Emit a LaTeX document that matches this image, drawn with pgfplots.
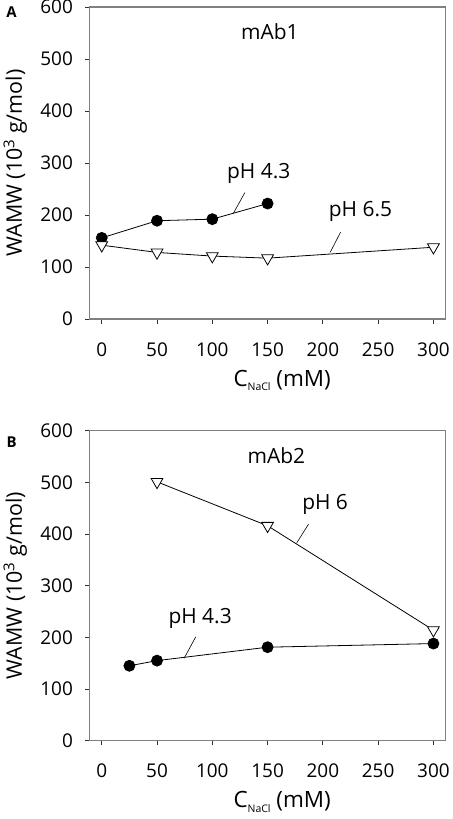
\documentclass[border=0pt]{standalone}
\usepackage{pgfplots}
\pgfplotsset{compat=1.18}
\usepackage{fontspec}
\setmainfont{Open Sans}
\newcommand{\tk}{\fontsize{19}{22}\selectfont}
\newcommand{\lb}{\fontsize{21.5}{25}\selectfont}
\newcommand{\an}{\fontsize{21}{24}\selectfont}
\newcommand{\sub}[1]{\raisebox{-4.5bp}{\fontsize{10.5}{12}\selectfont #1}}
\begin{document}
\pgfplotsset{
  panel/.style={
    scale only axis, width=356bp,
    xmin=-11, xmax=311, ymin=0, ymax=600,
    xtick={0,50,...,300}, ytick={0,100,...,600},
    axis line style={draw=black!50, line width=1.4bp},
    tick style={draw=black!80, line width=0.8bp},
    tick align=outside, major tick length=4.5bp,
    xtick pos=bottom, ytick pos=left,
    /pgf/number format/assume math mode=true,
    /pgf/number format/set thousands separator={},
    tick label style={font=\tk},
    xticklabel style={yshift=-15.5bp},
    yticklabel style={xshift=-8.7bp},
    every axis y label/.style={at={(axis description cs:-0.19,0.5)}, rotate=90, anchor=base, font=\lb},
    ylabel={WAMW (10\textsuperscript{3} g/mol)},
    xlabel={C\sub{NaCl} (mM)},
    clip=false,
  },
  dot/.style={black, line width=0.8bp, mark=*, mark size=5.5bp, mark options={fill=black}},
  tri/.style={black, line width=0.8bp, mark=triangle*, mark size=6.8bp, mark options={fill=white, rotate=180}},
}
\begin{tikzpicture}[font=\an]
\path[use as bounding box] (-87bp,7bp) rectangle (363bp,-812bp);
\begin{axis}[panel, height=312bp, anchor=north west, at={(0,0)},
  every axis x label/.style={at={(axis description cs:0.541,-0.215)}, anchor=base, font=\fontsize{22.5}{26}\selectfont}]
\addplot[dot] coordinates {(0,156) (50,189) (100,192) (150,222)};
\addplot[tri] coordinates {(0,142) (50,128) (100,121) (150,117) (300,138)};
\node at (axis cs:152,552) {mAb1};
\node at (axis cs:142,279) {pH 4.3};
\node at (axis cs:234,206) {pH 6.5};
\draw[black, line width=0.6bp] (axis cs:129.4,243) -- (axis cs:119,203);
\draw[black, line width=0.6bp] (axis cs:216,167) -- (axis cs:206.6,128);
\node[font=\fontsize{15}{18}\selectfont\bfseries] at (rel axis cs:0,1) [xshift=-78bp, yshift=-5.5bp] {A};
\end{axis}
\begin{axis}[panel, height=310bp, anchor=north west, at={(0,-423.7bp)},
  every axis x label/.style={at={(axis description cs:0.541,-0.216)}, anchor=base, font=\fontsize{22.5}{26}\selectfont}]
\addplot[dot] coordinates {(25,145) (50,155) (150,181) (300,188)};
\addplot[tri] coordinates {(50,501) (150,416) (300,214)};
\node at (axis cs:158,552) {mAb2};
\node at (axis cs:202,457) {pH 6};
\node at (axis cs:89,236) {pH 4.3};
\draw[black, line width=0.6bp] (axis cs:187,419) -- (axis cs:176.4,383);
\draw[black, line width=0.6bp] (axis cs:85,201) -- (axis cs:74.5,159.5);
\node[font=\fontsize{15}{18}\selectfont\bfseries] at (rel axis cs:0,1) [xshift=-78bp, yshift=-11.7bp] {B};
\end{axis}
\end{tikzpicture}
\end{document}
